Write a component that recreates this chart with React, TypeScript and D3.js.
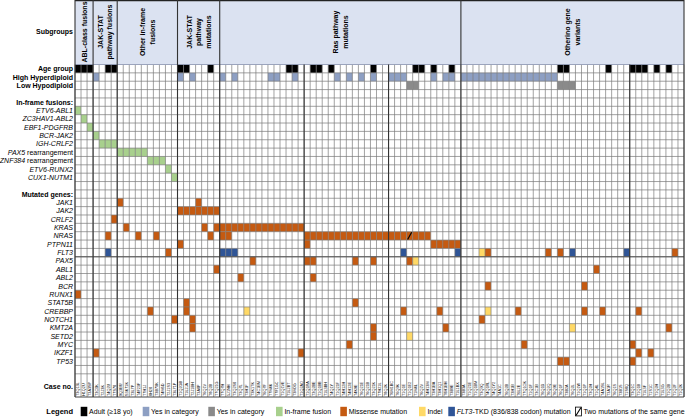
import React from "react";
import * as d3 from "d3";

// ---------------- DATA ----------------
const subgroupLabels: string[][] = [
  ["ABL-class fusions"],
  ["JAK-STAT", "pathway fusions"],
  ["Other in-frame", "fusions"],
  ["JAK-STAT", "pathway", "mutations"],
  ["Ras pathway", "mutations"],
  ["Otherino gene", "variants"],
];
const subgroupSizes = [3, 4, 10, 7, 40, 37];
const extraDividers = [38, 52, 92];

const caseIds: string[] = [
  "T3Q13L", "H1Q2U", "T3A3SP", "T3C0K", "T2J3K", "T4Q2U", "T7S78", "9Q3BU", "S3K71K", "T3L7P",
  "T4F23F", "T7H1J", "8H28", "T3B70K", "T4M6D", "T2J1S3", "T3L71P", "T1Q2GB", "T1L2JA", "T2J1BH",
  "T3A8P", "T6Q1V", "T8Q2B", "T7Q21G", "T7Q7H", "5J1NH", "T3Q2S8", "T3Q7L", "T3H1F", "T3K1TK",
  "T4C1BM", "T6Q7F", "T7M4K", "T7F1GC", "T1Q1VE", "T1L2BT", "T3M0G", "T1Q2AO", "T1Q1RA", "T3Q2BE",
  "T1Q1BB", "T1L3BH", "T4Q1Y", "T1Q21F", "T4H12H", "T4H12E", "T4K9E", "T6Q21E", "T6Q21B", "T3Q21K",
  "T7H21L", "T8Q2K", "T6M1BC", "T6Q9K", "T1Q1E", "T1Q1E2", "T1M4L", "T6Q2V", "T4H13M", "T3H1BA",
  "T3H1Q1", "T8H1BH", "T3B9E", "T1L1BX", "T3B3A", "T1Q21E", "T1Q1BM", "T3Q9Q", "T4Q1RL", "T4Q1Y2",
  "T4A1C", "T6Q2B", "T3H1B", "T6L2E", "T7Q1OK", "T1Q1F", "T3C1B", "T6Q1D", "T6Q2Q", "T6Q9E",
  "T6Q1F", "T3B2A", "T6Q2L", "T1Q1W", "T1Q1P", "T3Q2H", "T1Q4L", "T4A1SL", "T3A1R", "T6Q1S",
  "T3B1S", "T1S8Q", "T3Q1C", "T1Q1B", "T1L3F", "T1S1C", "T1Q2H", "T1L3G", "T1Q2B", "T1Q2F",
  "T1Q2K",
];

const adultCases = [0, 1, 2, 5, 6, 17, 18, 22, 35, 36, 39, 40, 42, 49, 56, 57, 59, 62, 80, 81, 88, 92, 93, 94, 96, 98];
const highHyperdiploidCases = [3, 17, 19, 24, 26, 32, 33, 36, 43, 45, 47, 49, 52, 53, 54, 59, 61, 62,
  64, 65, 66, 67, 68, 69, 70, 71, 72, 73, 74, 75, 76, 77, 78, 79];
const lowHypodiploidCases = [55, 56, 80, 81, 82];

const fusionNames = ["ETV6-ABL1", "ZC3HAV1-ABL2", "EBF1-PDGFRB", "BCR-JAK2", "IGH-CRLF2",
  "PAX5 rearrangement", "ZNF384 rearrangement", "ETV6-RUNX2", "CUX1-NUTM1"];
const fusionCases: number[][] = [[0], [1], [2], [3], [4, 5, 6], [7, 8, 9, 10, 11], [12, 13, 14], [15], [16]];

const geneNames = ["JAK1", "JAK2", "CRLF2", "KRAS", "NRAS", "PTPN11", "FLT3", "PAX5", "ABL1", "ABL2",
  "BCR", "RUNX1", "STAT5B", "CREBBP", "NOTCH1", "KMT2A", "SETD2", "MYC", "IKZF1", "TP53"];
const missenseCases: number[][] = [
  [7, 20],
  [17, 18, 19, 20, 21, 22, 23],
  [6],
  [8, 21, 23, 24, 25, 26, 27, 28, 29, 30, 31, 32, 33, 34, 35, 36, 37],
  [5, 10, 13, 22, 24, 25, 38, 39, 40, 41, 42, 43, 44, 45, 46, 47, 48, 49, 50, 51, 52, 53, 54, 55, 56, 57, 58],
  [17, 38, 59, 60, 61, 62, 63],
  [15, 68, 78, 80, 99],
  [29, 38, 39, 46, 49, 55],
  [23, 86],
  [27, 39],
  [68, 84],
  [0],
  [18, 46],
  [12, 18, 54, 60, 73, 84, 87, 93],
  [16, 19, 67],
  [19, 49, 61, 98],
  [49],
  [45, 74, 92],
  [3, 37, 93, 95],
  [80, 81, 92],
];
const indelCases: number[][] = [
  [], [], [], [], [], [], [67], [56], [], [], [], [], [], [28, 68], [], [82], [55], [], [], [],
];
const tkdCases: number[][] = [
  [], [], [], [], [], [], [5, 24, 25, 26, 54, 63, 82, 91], [], [], [], [], [], [], [], [], [], [], [], [], [],
];
const doubleMutationCases: number[][] = [
  [], [], [], [], [55], [], [], [], [], [], [], [], [], [], [], [], [], [], [], [],
];

const legendItems = [
  { key: "adult", text: "Adult (\u226518 yo)" },
  { key: "hh", text: "Yes in category" },
  { key: "lh", text: "Yes in category" },
  { key: "fusion", text: "In-frame fusion" },
  { key: "missense", text: "Missense mutation" },
  { key: "indel", text: "Indel" },
  { key: "tkd", text: "-TKD (836/838 codon) mutation" },
  { key: "double", text: "Two mutations of the same gene" },
];

// ---------------- STYLE ----------------
const COLORS: Record<string, string> = {
  adult: "#000000",
  hh: "#8d9fc3",
  lh: "#8a8a8a",
  fusion: "#a8d08d",
  missense: "#c55a11",
  indel: "#ffd966",
  tkd: "#2f5597",
};
const FONT = "Liberation Sans, Arial, Helvetica, sans-serif";

const W = 685;
const H = 417;
const nCols = d3.sum(subgroupSizes);
const nRows = 37; // grid rows incl. blanks
const gridLeft = 75;
const gridRight = 684;
const gridTop = 64.5;
const rowH = 8.36;
const caseBottom = 397;
const legendY = 411.5;
const legendX = [80.7, 142.7, 208.3, 276, 340.3, 419, 448.3, 575];

export default function App() {
  const x = d3.scaleLinear().domain([0, nCols]).range([gridLeft, gridRight]);
  const y = d3.scaleLinear().domain([0, nRows]).range([gridTop, gridTop + nRows * rowH]);
  const cw = x(1) - x(0);

  const ageRow = 0, hhRow = 1, lhRow = 2, fusionHeaderRow = 4, fusionStart = 5;
  const geneHeaderRow = 15, geneStart = 16;

  const cells: { c: number; r: number; color: string }[] = [];
  adultCases.forEach((c) => cells.push({ c, r: ageRow, color: COLORS.adult }));
  highHyperdiploidCases.forEach((c) => cells.push({ c, r: hhRow, color: COLORS.hh }));
  lowHypodiploidCases.forEach((c) => cells.push({ c, r: lhRow, color: COLORS.lh }));
  fusionCases.forEach((arr, i) => arr.forEach((c) => cells.push({ c, r: fusionStart + i, color: COLORS.fusion })));
  geneNames.forEach((_, i) => {
    missenseCases[i].forEach((c) => cells.push({ c, r: geneStart + i, color: COLORS.missense }));
    indelCases[i].forEach((c) => cells.push({ c, r: geneStart + i, color: COLORS.indel }));
    tkdCases[i].forEach((c) => cells.push({ c, r: geneStart + i, color: COLORS.tkd }));
  });
  const slashes: { c: number; r: number }[] = [];
  doubleMutationCases.forEach((arr, i) => arr.forEach((c) => slashes.push({ c, r: geneStart + i })));

  const bounds: number[] = [0];
  subgroupSizes.forEach((s) => bounds.push(bounds[bounds.length - 1] + s));
  const darkCols = Array.from(new Set([...bounds, ...extraDividers]));

  const rowLabel = (r: number, content: React.ReactNode, bold: boolean, italic: boolean) => (
    <text
      key={"rl" + r}
      x={73}
      y={y(r + 0.5) + 2.5}
      textAnchor="end"
      fontSize={7}
      fontWeight={bold ? "bold" : "normal"}
      fontStyle={italic ? "italic" : "normal"}
      fill="#000"
    >
      {content}
    </text>
  );

  const labels: React.ReactNode[] = [];
  labels.push(rowLabel(ageRow, "Age group", true, false));
  labels.push(rowLabel(hhRow, "High Hyperdiploid", true, false));
  labels.push(rowLabel(lhRow, "Low Hypodiploid", true, false));
  labels.push(rowLabel(fusionHeaderRow, "In-frame fusions:", true, false));
  fusionNames.forEach((n, i) => {
    if (n.endsWith(" rearrangement")) {
      const g = n.replace(" rearrangement", "");
      labels.push(
        rowLabel(fusionStart + i, <>
          <tspan fontStyle="italic">{g}</tspan>
          <tspan fontStyle="normal"> rearrangement</tspan>
        </>, false, false)
      );
    } else labels.push(rowLabel(fusionStart + i, n, false, true));
  });
  labels.push(rowLabel(geneHeaderRow, "Mutated genes:", true, false));
  geneNames.forEach((n, i) => labels.push(rowLabel(geneStart + i, n, false, true)));

  return (
    <div style={{ position: "absolute", left: 0, top: 0 }}>
      <svg width={W} height={H} style={{ display: "block", background: "#fff" }} fontFamily={FONT}>
        {/* header */}
        <rect x={gridLeft} y={0.5} width={gridRight - gridLeft} height={gridTop - 0.5} fill="#dbe2f1" />
        <line x1={gridLeft} x2={gridRight} y1={0.6} y2={0.6} stroke="#222" strokeWidth={1.2} />
        <text x={73} y={34} textAnchor="end" fontSize={7} fontWeight="bold">Subgroups</text>
        {subgroupLabels.map((lines, i) => {
          const cx = (x(bounds[i]) + x(bounds[i + 1])) / 2;
          const lh = 9.5;
          const off = ((lines.length - 1) * lh) / 2;
          return (
            <text key={"sg" + i} transform={`translate(${cx},32) rotate(-90)`} textAnchor="middle" fontSize={7} fontWeight="bold">
              {lines.map((l, j) => (
                <tspan key={j} x={0} y={-off + j * lh + 2.5}>{l}</tspan>
              ))}
            </text>
          );
        })}

        {/* cells */}
        {cells.map((d, i) => (
          <rect key={"c" + i} x={x(d.c)} y={y(d.r)} width={cw} height={rowH} fill={d.color} />
        ))}

        {/* grid */}
        <g stroke="#7a7a7a" strokeWidth={0.7}>
          {d3.range(nRows + 1).map((r) => (
            <line key={"h" + r} x1={gridLeft} x2={gridRight} y1={y(r)} y2={y(r)} />
          ))}
          {d3.range(nCols + 1).map((c) => (
            <line key={"v" + c} x1={x(c)} x2={x(c)} y1={gridTop} y2={caseBottom} />
          ))}
        </g>
        <line x1={gridLeft} x2={gridRight} y1={gridTop} y2={gridTop} stroke="#9aa6c4" strokeWidth={0.8} />
        <line x1={gridLeft} x2={gridRight} y1={y(geneStart + 7)} y2={y(geneStart + 7)} stroke="#555" strokeWidth={1} />
        <line x1={gridLeft} x2={gridRight} y1={caseBottom} y2={caseBottom} stroke="#444" strokeWidth={1} />
        {darkCols.map((c) => (
          <line key={"d" + c} x1={x(c)} x2={x(c)} y1={extraDividers.includes(c) ? gridTop : 0} y2={caseBottom} stroke="#333" strokeWidth={1.1} />
        ))}

        {/* double mutation slash */}
        {slashes.map((s, i) => (
          <line key={"s" + i} x1={x(s.c) + 1} x2={x(s.c + 1) - 1} y1={y(s.r + 1) - 0.5} y2={y(s.r) + 0.5} stroke="#000" strokeWidth={1.2} />
        ))}

        {/* row labels */}
        {labels}

        {/* case labels */}
        <text x={73} y={389} textAnchor="end" fontSize={7} fontWeight="bold">Case no.</text>
        {caseIds.map((id, i) => (
          <text key={"id" + i} transform={`translate(${x(i + 0.5) + 1.4},${caseBottom - 1}) rotate(-90)`} fontSize={3.8} fill="#000">
            {id}
          </text>
        ))}

        {/* legend */}
        <text x={73} y={legendY + 2.6} textAnchor="end" fontSize={7.5} fontWeight="bold">Legend</text>
        {legendItems.map((it, i) => {
          const lx = legendX[i];
          const sq = (
            it.key === "double" ? (
              <g>
                <rect x={lx + 0.4} y={legendY - 4.4} width={6} height={8.8} fill="#fff" stroke="#000" strokeWidth={0.8} />
                <line x1={lx + 1} x2={lx + 6} y1={legendY + 4} y2={legendY - 4} stroke="#000" strokeWidth={1.1} />
              </g>
            ) : (
              <rect x={lx} y={legendY - 4.7} width={6.6} height={9.4} fill={COLORS[it.key]} />
            )
          );
          return (
            <g key={"lg" + i}>
              {sq}
              <text x={lx + 8.4} y={legendY + 2.5} fontSize={7}>
                {it.key === "tkd" ? <><tspan fontStyle="italic">FLT3</tspan>{it.text}</> : it.text}
              </text>
            </g>
          );
        })}
      </svg>
    </div>
  );
}
